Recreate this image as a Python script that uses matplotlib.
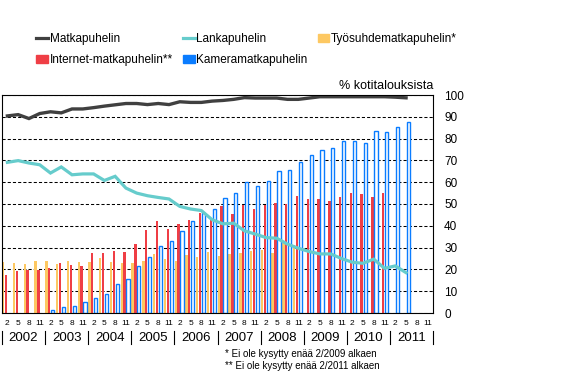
import numpy as np
import matplotlib.pyplot as plt
import matplotlib.transforms as mtransforms
from matplotlib.lines import Line2D
from matplotlib.patches import Patch

plt.rcParams['font.family'] = ['Liberation Sans', 'DejaVu Sans']

# quarterly data, 2/2002 - 5/2011
years = [2002, 2003, 2004, 2005, 2006, 2007, 2008, 2009, 2010, 2011]
months = ['2', '5', '8', '11']

matka = [90.4, 91.0, 89.2, 91.5, 92.3, 91.8, 93.6, 93.6, 94.2, 94.9,
         95.5, 96.1, 96.1, 95.6, 96.1, 95.6, 96.9, 96.6, 96.6, 97.2,
         97.5, 98.0, 98.8, 98.6, 98.6, 98.6, 98.0, 98.0, 98.6, 99.2,
         99.2, 99.2, 99.2, 99.2, 99.2, 99.2, 99.0, 98.7]
lanka = [69.1, 69.9, 68.8, 68.0, 64.2, 67.0, 63.4, 63.8, 63.8, 60.8,
         62.7, 57.3, 55.0, 53.8, 53.0, 52.3, 48.9, 47.7, 47.0, 42.8,
         40.9, 41.2, 37.7, 36.2, 34.6, 34.3, 31.6, 29.7, 28.2, 27.1,
         27.1, 25.0, 23.3, 22.8, 24.7, 20.5, 21.6, 18.5]
tyosuhde = [23.4, 23.0, 22.5, 23.9, 23.9, 22.5, 23.9, 23.4, 23.4, 25.3,
            23.4, 23.0, 23.0, 23.9, 27.1, 24.8, 23.9, 26.7, 25.7, 28.0,
            26.2, 27.1, 27.6, 28.5, 29.0, 27.6, 32.0, 31.0]
internet = [17.5, 19.3, 19.8, 19.8, 20.7, 23.0, 22.1, 21.6, 27.6, 27.6,
            28.5, 28.0, 31.7, 38.2, 42.3, 38.6, 40.9, 42.8, 46.0, 42.8,
            49.2, 45.5, 49.7, 47.8, 49.7, 50.6, 50.1, 53.8, 52.4, 52.4,
            51.5, 53.3, 55.2, 54.7, 53.3, 55.2]
# camera phone asked from 2/2003 on
kamera_start = 2003
kamera = [1.2, 2.8, 3.2, 5.0, 6.9, 8.7, 13.3, 15.6, 21.6, 25.7,
          30.8, 33.1, 37.7, 42.3, 46.0, 47.8, 52.9, 55.2, 60.2, 58.4,
          60.7, 65.3, 65.7, 69.4, 72.6, 74.9, 75.9, 79.1, 79.1, 78.2,
          83.7, 83.2, 85.5, 87.4]

labels = ['Matkapuhelin', 'Lankapuhelin', 'Työsuhdematkapuhelin*',
          'Internet-matkapuhelin**', 'Kameramatkapuhelin']
c_matka = '#404040'
c_lanka = '#66cccc'
c_tyo = '#fdc862'
c_net = '#ef3e45'
c_kam = '#0a7cff'

n = len(years) * len(months)
x = np.arange(n)
k0 = years.index(kamera_start) * 4

fig = plt.figure(figsize=(5.67, 3.73), dpi=100)
ax = fig.add_axes([2 / 567, 60 / 373, 431 / 567, 218 / 373])

ax.bar(x[:len(tyosuhde)] - 0.38, tyosuhde, width=0.22, color=c_tyo,
       antialiased=False)
ax.bar(x[:len(internet)] - 0.12, internet, width=0.22, color=c_net,
       antialiased=False)
ax.bar(x[k0:k0 + len(kamera)] + 0.2, kamera, width=0.3,
       facecolor='white', edgecolor=c_kam, linewidth=1.0)
ax.plot(x[:len(lanka)], lanka, color=c_lanka, lw=2.3, solid_joinstyle='miter')
ax.plot(x[:len(matka)], matka, color=c_matka, lw=2.4, solid_joinstyle='miter')

ax.set_xlim(-0.5, n - 0.5)
ax.set_ylim(0, 100)
ax.set_axisbelow(True)
ax.yaxis.tick_right()
ax.set_yticks(np.arange(0, 101, 10))
ax.tick_params(axis='y', length=0, pad=8, labelsize=8.5)
ax.set_xticks(x)
ax.set_xticklabels(months * len(years))
ax.tick_params(axis='x', length=0, pad=5, labelsize=6)
ax.yaxis.grid(True, color='black', linestyle=(0, (3, 2)), linewidth=0.75)
for s in ax.spines.values():
    s.set_linewidth(0.8)

# year labels and separators
trans = mtransforms.blended_transform_factory(ax.transData, ax.transAxes)
for k, yr in enumerate(years):
    ax.text(k * 4 + 1.5, -0.115, str(yr), transform=trans, ha='center',
            va='center', fontsize=9.5)
for k in range(len(years) + 1):
    ax.plot([k * 4 - 0.5, k * 4 - 0.5], [-0.083, -0.142], color='black',
            lw=0.8, transform=trans, clip_on=False)

fig.text(433 / 567, 1 - 86 / 373, '% kotitalouksista', ha='right',
         va='center', fontsize=9)
fig.text(225 / 567, 1 - 354 / 373, '* Ei ole kysytty enää 2/2009 alkaen',
         fontsize=7, va='center')
fig.text(225 / 567, 1 - 366 / 373, '** Ei ole kysytty enää 2/2011 alkaen',
         fontsize=7, va='center')

h_matka = Line2D([], [], color=c_matka, lw=2.3)
h_lanka = Line2D([], [], color=c_lanka, lw=2.3)
h_tyo = Patch(color=c_tyo)
h_net = Patch(color=c_net)
h_kam = Patch(color=c_kam)
# legend fills column by column
fig.legend([h_matka, h_net, h_lanka, h_kam, h_tyo],
           [labels[0], labels[3], labels[1], labels[4], labels[2]],
           ncol=3, loc='upper left', bbox_to_anchor=(36 / 567, 1 - 33 / 373),
           frameon=False, fontsize=8.5, handlelength=1.0, handleheight=0.7,
           handletextpad=0.15, columnspacing=0.85, labelspacing=0.75,
           borderpad=0, borderaxespad=0)

fig.savefig('out.png', dpi=100)
